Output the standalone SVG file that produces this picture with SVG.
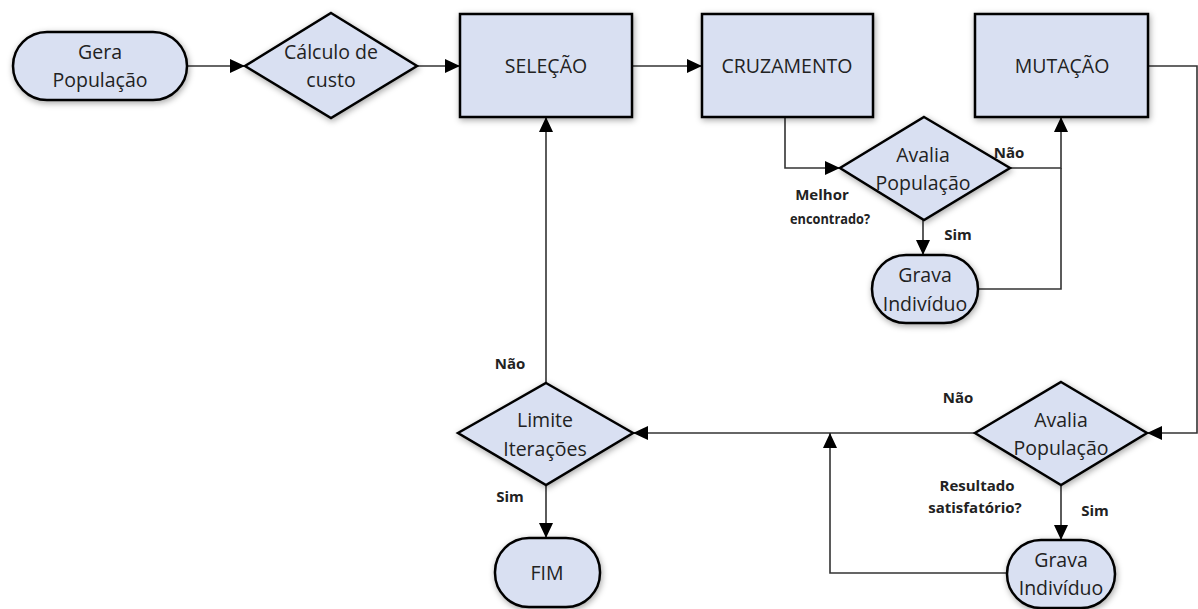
<svg xmlns="http://www.w3.org/2000/svg" width="1198" height="609" viewBox="0 0 1198 609">
<defs>
<marker id="arr" markerUnits="userSpaceOnUse" markerWidth="16" markerHeight="14" refX="15" refY="7" orient="auto">
<path d="M0,0 L15,7 L0,14 Z" fill="#000"/>
</marker>
<filter id="sh" x="-20%" y="-20%" width="140%" height="140%">
<feDropShadow dx="1" dy="2" stdDeviation="3" flood-color="#000" flood-opacity="0.35"/>
</filter>
<style>
.n{fill:#d9e0f2;stroke:#000;stroke-width:2.5;filter:url(#sh)}
.t{font-family:"Open Sans","Liberation Sans",sans-serif;font-size:19.5px;fill:#222;text-anchor:middle}
.l{font-family:"Open Sans","Liberation Sans",sans-serif;font-size:15px;font-weight:bold;fill:#222;text-anchor:middle}
.c{fill:none;stroke:#333;stroke-width:1.6}
</style>
</defs>
<rect width="1198" height="609" fill="#fff"/>
<g id="connectors">
<path class="c" d="M187,66 H245" marker-end="url(#arr)"/>
<path class="c" d="M417,66 H460" marker-end="url(#arr)"/>
<path class="c" d="M632,66 H702" marker-end="url(#arr)"/>
<path class="c" d="M785,117 V168 H840" marker-end="url(#arr)"/>
<path class="c" d="M1010,168 H1061 V117" marker-end="url(#arr)"/>
<path class="c" d="M978,289 H1061 V168"/>
<path class="c" d="M923,220 V255" marker-end="url(#arr)"/>
<path class="c" d="M1148,66 H1197 V433 H1147" marker-end="url(#arr)"/>
<path class="c" d="M975,433 H633" marker-end="url(#arr)"/>
<path class="c" d="M1061,485 V540" marker-end="url(#arr)"/>
<path class="c" d="M1007,573 H830 V433" marker-end="url(#arr)"/>
<path class="c" d="M546,383 V117" marker-end="url(#arr)"/>
<path class="c" d="M546,485 V538" marker-end="url(#arr)"/>
</g>
<g id="gera">
<rect class="n" x="13" y="32" width="174" height="68" rx="34"/>
<text class="t" x="100" y="59">Gera</text>
<text class="t" x="100" y="87">População</text>
</g>
<g id="calculo">
<polygon class="n" points="331,13 417,66 331,118 245,66"/>
<text class="t" x="331" y="59">Cálculo de</text>
<text class="t" x="331" y="87">custo</text>
</g>
<g id="selecao">
<rect class="n" x="460" y="14" width="172" height="103"/>
<text class="t" x="546" y="73">SELEÇÃO</text>
</g>
<g id="cruzamento">
<rect class="n" x="702" y="14" width="171" height="103"/>
<text class="t" x="787" y="73">CRUZAMENTO</text>
</g>
<g id="mutacao">
<rect class="n" x="975" y="14" width="173" height="103"/>
<text class="t" x="1062" y="73">MUTAÇÃO</text>
</g>
<g id="avalia1">
<polygon class="n" points="924,117 1010,168 924,220 840,168"/>
<text class="t" x="923" y="162">Avalia</text>
<text class="t" x="923" y="190">População</text>
</g>
<g id="grava1">
<rect class="n" x="872" y="255" width="106" height="68" rx="34"/>
<text class="t" x="925" y="282">Grava</text>
<text class="t" x="925" y="311">Indivíduo</text>
</g>
<g id="avalia2">
<polygon class="n" points="1061,382 1147,433 1061,485 975,433"/>
<text class="t" x="1061" y="427">Avalia</text>
<text class="t" x="1061" y="455">População</text>
</g>
<g id="grava2">
<rect class="n" x="1007" y="540" width="108" height="68" rx="34"/>
<text class="t" x="1061" y="567">Grava</text>
<text class="t" x="1061" y="595">Indivíduo</text>
</g>
<g id="limite">
<polygon class="n" points="546,383 633,433 546,485 458,433"/>
<text class="t" x="545" y="427">Limite</text>
<text class="t" x="545" y="456">Iterações</text>
</g>
<g id="fim">
<rect class="n" x="495" y="538" width="105" height="69" rx="34"/>
<text class="t" x="547" y="580">FIM</text>
</g>
<g id="labels">
<text class="l" x="1009" y="158">Não</text>
<text class="l" x="822" y="200">Melhor</text>
<text class="l" x="830" y="224" textLength="80" lengthAdjust="spacingAndGlyphs">encontrado?</text>
<text class="l" x="958" y="240">Sim</text>
<text class="l" x="510" y="369">Não</text>
<text class="l" x="510" y="502">Sim</text>
<text class="l" x="958" y="403">Não</text>
<text class="l" x="977" y="491">Resultado</text>
<text class="l" x="975" y="513">satisfatório?</text>
<text class="l" x="1095" y="516">Sim</text>
</g>
</svg>
